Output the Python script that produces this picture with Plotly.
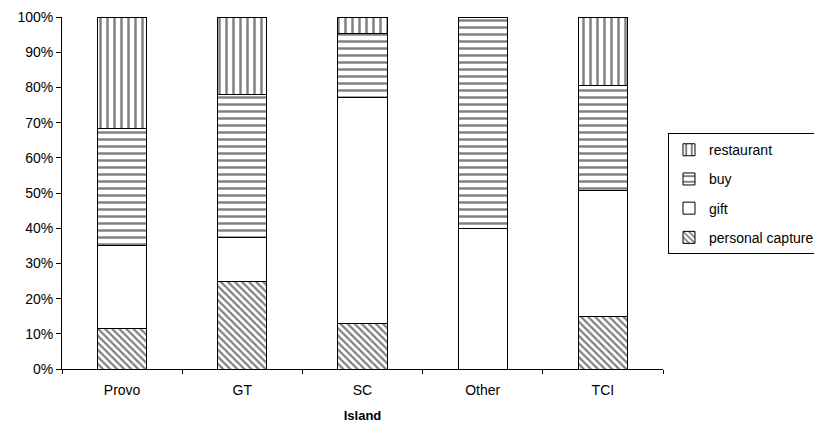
import plotly.graph_objects as go

# Share of each use by island (percent of respondents)
islands = ["Provo", "GT", "SC", "Other", "TCI"]
personal_capture = [11.4, 25.0, 12.8, 0.0, 14.8]
gift = [23.8, 12.5, 64.2, 40.0, 35.8]
buy = [33.0, 40.6, 18.2, 60.0, 29.8]
restaurant = [31.8, 21.9, 4.8, 0.0, 19.6]

y_ticks = [0, 10, 20, 30, 40, 50, 60, 70, 80, 90, 100]
y_labels = [f"{v}%" for v in y_ticks]

# name, values, hatch shape, hatch size, hatch solidity, legend rank
series = [
    ("personal capture", personal_capture, "\\", 5, 0.45, 4),
    ("gift", gift, "", 8, 0.3, 3),
    ("buy", buy, "-", 7, 0.35, 2),
    ("restaurant", restaurant, "|", 7, 0.35, 1),
]

fig = go.Figure()
for name, vals, shape, size, solid, rank in series:
    fig.add_trace(go.Bar(
        name=name,
        x=islands,
        y=vals,
        legendgroup=name,
        legendrank=rank,
        marker=dict(
            color="white",
            line=dict(color="black", width=1),
            pattern=dict(shape=shape, fgcolor="black", bgcolor="white",
                         size=size, solidity=solid, fillmode="overlay"),
        ),
    ))

font_family = "Liberation Sans, Arial, sans-serif"
fig.update_layout(
    barmode="stack",
    bargap=0.59,
    width=814,
    height=427,
    margin=dict(l=62, r=151, t=17, b=58, autoexpand=False),
    paper_bgcolor="white",
    plot_bgcolor="white",
    font=dict(family=font_family, size=14, color="black"),
    showlegend=True,
    legend=dict(
        x=1.0083, xanchor="left",
        y=0.67, yanchor="top",
        traceorder="grouped",
        tracegroupgap=8,
        bordercolor="black",
        borderwidth=1,
        bgcolor="white",
        font=dict(family=font_family, size=14, color="black"),
        itemwidth=30,
    ),
    xaxis=dict(
        title=dict(text="<b>Island</b>", font=dict(size=13), standoff=14),
        showline=True, linecolor="black", linewidth=1,
        ticks="outside", ticklen=4, tickcolor="black",
        tickson="boundaries",
        ticklabelstandoff=8,
        showgrid=False,
        fixedrange=True,
    ),
    yaxis=dict(
        range=[0, 100],
        tickvals=y_ticks,
        ticktext=y_labels,
        showline=True, linecolor="black", linewidth=1,
        ticks="outside", ticklen=5, tickcolor="black",
        showgrid=False,
        zeroline=False,
        fixedrange=True,
    ),
)

fig.write_html("out.html")
